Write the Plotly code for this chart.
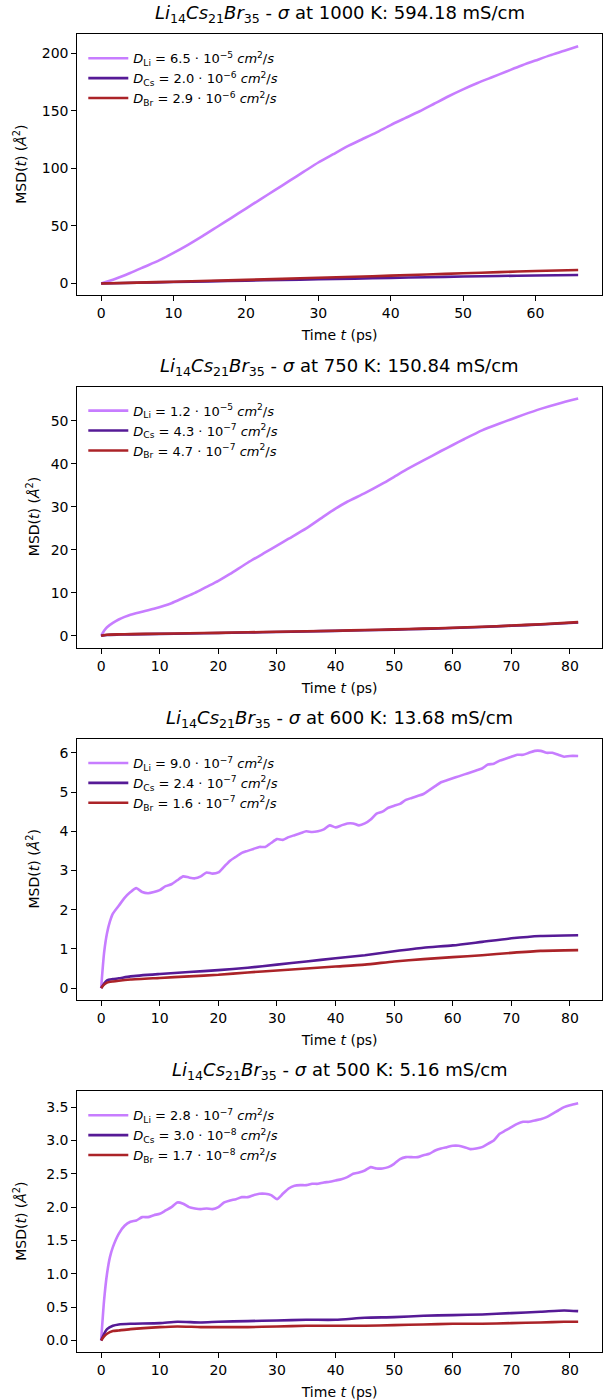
import plotly.graph_objects as go

# ---------------- data ----------------
titles = [
    "<i>Li</i><sub>14</sub><i>Cs</i><sub>21</sub><i>Br</i><sub>35</sub> - <i>σ</i> at 1000 K: 594.18 mS/cm",
    "<i>Li</i><sub>14</sub><i>Cs</i><sub>21</sub><i>Br</i><sub>35</sub> - <i>σ</i> at 750 K: 150.84 mS/cm",
    "<i>Li</i><sub>14</sub><i>Cs</i><sub>21</sub><i>Br</i><sub>35</sub> - <i>σ</i> at 600 K: 13.68 mS/cm",
    "<i>Li</i><sub>14</sub><i>Cs</i><sub>21</sub><i>Br</i><sub>35</sub> - <i>σ</i> at 500 K: 5.16 mS/cm",
]
species = ["Li", "Cs", "Br"]
colors = ["#c77dff", "#561a96", "#ab2328"]
diffusion = [
    [("6.5", "−5"), ("2.0", "−6"), ("2.9", "−6")],
    [("1.2", "−5"), ("4.3", "−7"), ("4.7", "−7")],
    [("9.0", "−7"), ("2.4", "−7"), ("1.6", "−7")],
    [("2.8", "−7"), ("3.0", "−8"), ("1.7", "−8")],
]

# panel 1 (1000 K)
t1_li = [0, 2, 4, 6, 8, 10, 12, 14, 16, 18, 20, 22, 24, 26, 28, 30, 32, 34, 36, 38, 40,
         42, 44, 46, 48, 50, 52, 54, 56, 58, 60, 62, 64, 65.9]
msd1_li = [0, 4, 9, 14.5, 20, 26.5, 33.5, 41, 49, 57, 65, 73, 81, 89, 97, 105, 112, 119, 125,
           131, 137.5, 143.5, 149.5, 156, 162.5, 168.5, 174, 179, 184, 189, 193.5, 198, 202, 206]
t1_ion = [0, 5, 10, 15, 20, 25, 30, 35, 40, 45, 50, 55, 60, 65.9]
msd1_cs = [0, 0.6, 1.2, 1.8, 2.4, 3.0, 3.6, 4.2, 4.8, 5.4, 6.0, 6.5, 6.9, 7.3]
msd1_br = [0, 0.7, 1.5, 2.3, 3.1, 4.0, 4.9, 5.8, 6.8, 7.8, 8.8, 9.8, 10.8, 11.7]

# panel 2 (750 K)
t2_li = [0, 0.5, 1, 2, 3, 4, 5, 7, 9, 12, 14, 16, 18, 20, 22, 25, 28, 30, 32, 35, 38, 40,
         42, 45, 48, 50, 52, 55, 58, 60, 62, 65, 68, 70, 72, 75, 78, 81.4]
msd2_li = [0, 1.2, 2.0, 3.0, 3.8, 4.4, 4.9, 5.6, 6.3, 7.6, 8.8, 10.0, 11.4, 12.8, 14.4, 17.0,
           19.4, 21.0, 22.6, 25.0, 27.8, 29.6, 31.2, 33.2, 35.4, 37.0, 38.6, 40.8, 43.0, 44.4,
           45.8, 47.8, 49.4, 50.4, 51.4, 52.8, 54.0, 55.2]
t2_ion = [0, 1, 3, 5, 10, 15, 20, 25, 30, 35, 40, 45, 50, 55, 60, 65, 70, 75, 81.4]
msd2_cs = [0, 0.2, 0.3, 0.35, 0.45, 0.55, 0.65, 0.78, 0.9, 1.02, 1.15, 1.3, 1.45, 1.62,
           1.82, 2.05, 2.35, 2.65, 3.1]
msd2_br = [0, 0.25, 0.35, 0.4, 0.5, 0.6, 0.7, 0.82, 0.95, 1.07, 1.2, 1.35, 1.5, 1.67,
           1.88, 2.1, 2.4, 2.7, 3.2]

# panel 3 (600 K)
t3_li = [0, 0.5, 1, 1.5, 2, 3, 4, 5, 6, 7, 8, 9, 10, 11, 12, 13, 14, 15, 16, 17, 18, 19, 20,
         21, 22, 23, 24, 25, 26, 27, 28, 29, 30, 31, 32, 33, 34, 35, 36, 37, 38, 39, 40, 41,
         42, 43, 44, 45, 46, 47, 48, 49, 50, 51, 52, 53, 54, 55, 56, 57, 58, 59, 60, 61, 62,
         63, 64, 65, 66, 67, 68, 69, 70, 71, 72, 73, 74, 75, 76, 77, 78, 79, 80, 81.4]
msd3_li = [0, 0.9, 1.4, 1.7, 1.9, 2.1, 2.3, 2.45, 2.55, 2.45, 2.42, 2.45, 2.5, 2.6, 2.65,
           2.75, 2.85, 2.82, 2.8, 2.85, 2.95, 2.92, 2.95, 3.1, 3.25, 3.35, 3.45, 3.5, 3.55,
           3.6, 3.6, 3.7, 3.8, 3.78, 3.85, 3.9, 3.95, 4.0, 3.98, 4.0, 4.05, 4.15, 4.1, 4.15,
           4.2, 4.2, 4.15, 4.2, 4.3, 4.45, 4.5, 4.6, 4.65, 4.7, 4.8, 4.85, 4.9, 4.95, 5.05,
           5.15, 5.25, 5.3, 5.35, 5.4, 5.45, 5.5, 5.55, 5.6, 5.7, 5.72, 5.8, 5.85, 5.9, 5.95,
           5.95, 6.0, 6.05, 6.05, 6.0, 6.0, 5.95, 5.9, 5.92, 5.92]
t3_ion = [0, 0.5, 1, 2, 3, 5, 10, 15, 20, 25, 30, 35, 40, 45, 50, 55, 60, 65, 70, 75, 81.4]
msd3_cs = [0, 0.12, 0.2, 0.23, 0.25, 0.3, 0.36, 0.41, 0.46, 0.52, 0.6, 0.68, 0.76, 0.84,
           0.94, 1.03, 1.09, 1.18, 1.27, 1.33, 1.35]
msd3_br = [0, 0.09, 0.14, 0.17, 0.19, 0.22, 0.26, 0.3, 0.34, 0.4, 0.45, 0.5, 0.55, 0.6,
           0.68, 0.74, 0.79, 0.84, 0.9, 0.95, 0.97]

# panel 4 (500 K)
t4_li = [0, 0.5, 1, 1.5, 2, 3, 4, 5, 6, 7, 8, 9, 10, 11, 12, 13, 14, 15, 16, 17, 18, 19, 20,
         21, 22, 23, 24, 25, 26, 27, 28, 29, 30, 31, 32, 33, 34, 35, 36, 37, 38, 39, 40, 41,
         42, 43, 44, 45, 46, 47, 48, 49, 50, 51, 52, 53, 54, 55, 56, 57, 58, 59, 60, 61, 62,
         63, 64, 65, 66, 67, 68, 69, 70, 71, 72, 73, 74, 75, 76, 77, 78, 79, 80, 81.4]
msd4_li = [0, 0.6, 1.0, 1.25, 1.4, 1.6, 1.72, 1.78, 1.8, 1.85, 1.85, 1.88, 1.9, 1.95, 2.0,
           2.07, 2.05, 2.0, 1.98, 1.97, 1.98, 1.97, 2.0, 2.07, 2.1, 2.12, 2.15, 2.15, 2.18,
           2.2, 2.2, 2.18, 2.12, 2.2, 2.28, 2.32, 2.33, 2.33, 2.35, 2.35, 2.37, 2.38, 2.4,
           2.42, 2.45, 2.5, 2.52, 2.55, 2.6, 2.58, 2.58, 2.6, 2.65, 2.72, 2.75, 2.75, 2.75,
           2.78, 2.8, 2.85, 2.88, 2.9, 2.92, 2.92, 2.9, 2.87, 2.88, 2.9, 2.95, 3.0, 3.1, 3.15,
           3.2, 3.25, 3.28, 3.28, 3.3, 3.32, 3.35, 3.4, 3.45, 3.5, 3.53, 3.56]
t4_ion = [0, 0.5, 1, 2, 3, 5, 10, 13, 17, 20, 25, 30, 35, 40, 45, 50, 55, 60, 65, 70, 75, 79, 81.4]
msd4_cs = [0, 0.1, 0.17, 0.22, 0.24, 0.25, 0.26, 0.28, 0.27, 0.28, 0.29, 0.3, 0.31, 0.31,
           0.34, 0.35, 0.37, 0.38, 0.39, 0.41, 0.43, 0.45, 0.44]
msd4_br = [0, 0.06, 0.1, 0.14, 0.15, 0.17, 0.2, 0.21, 0.2, 0.2, 0.2, 0.21, 0.22, 0.22,
           0.22, 0.23, 0.24, 0.25, 0.25, 0.26, 0.27, 0.28, 0.28]

panels = [
    [(t1_li, msd1_li), (t1_ion, msd1_cs), (t1_ion, msd1_br)],
    [(t2_li, msd2_li), (t2_ion, msd2_cs), (t2_ion, msd2_br)],
    [(t3_li, msd3_li), (t3_ion, msd3_cs), (t3_ion, msd3_br)],
    [(t4_li, msd4_li), (t4_ion, msd4_cs), (t4_ion, msd4_br)],
]
x_ticks = [list(range(0, 61, 10)), list(range(0, 81, 10)), list(range(0, 81, 10)), list(range(0, 81, 10))]
y_ticks = [[0, 50, 100, 150, 200], [0, 10, 20, 30, 40, 50], [0, 1, 2, 3, 4, 5, 6],
           [0, 0.5, 1.0, 1.5, 2.0, 2.5, 3.0, 3.5]]
y_ticktext = [None, None, None, ["0.0", "0.5", "1.0", "1.5", "2.0", "2.5", "3.0", "3.5"]]
ylabel_x = [20, 33, 33, 20]   # pixel centre of each y-axis label

# ---------------- layout ----------------
W, H = 603, 1400
FONT = "DejaVu Sans"
box_left, box_right = 77.3, 602.0
box_tops = [34.3, 386.7, 739.0, 1091.3]
box_h = 261.0

fig = go.Figure()
layout = dict(
    width=W, height=H, margin=dict(l=0, r=0, t=0, b=0),
    paper_bgcolor="white", plot_bgcolor="white",
    font=dict(family=FONT, size=14, color="black"),
    annotations=[],
)

def pad_range(vals):
    lo, hi = min(vals), max(vals)
    span = hi - lo
    return [lo - 0.05 * span, hi + 0.05 * span]

for i, panel in enumerate(panels):
    n = "" if i == 0 else str(i + 1)
    xa, ya = "x" + n, "y" + n
    leg = "legend" + n
    all_x = [v for tt, _ in panel for v in tt]
    all_y = [v for _, yy in panel for v in yy]
    for j, (tt, yy) in enumerate(panel):
        mant, exp = diffusion[i][j]
        name = (f"<i>D</i><sub>{species[j]}</sub> = {mant} · 10<sup>{exp}</sup> "
                f"<i>cm</i><sup>2</sup>/<i>s</i>")
        fig.add_trace(go.Scatter(
            x=tt, y=yy, mode="lines", name=name,
            line=dict(color=colors[j], width=2.6, shape="spline", smoothing=0.6),
            xaxis=xa, yaxis=ya, legend=leg, showlegend=True,
        ))
    top = box_tops[i]
    bot = top + box_h
    y0 = 1 - bot / H
    y1 = 1 - top / H
    axis_common = dict(
        showline=True, linecolor="black", linewidth=1, mirror=True,
        ticks="outside", ticklen=5, tickwidth=1, tickcolor="black",
        showgrid=False, zeroline=False,
        tickfont=dict(family=FONT, size=14, color="black"),
    )
    layout["xaxis" + n] = dict(
        axis_common, domain=[box_left / W, box_right / W], anchor=ya,
        range=pad_range(all_x), tickvals=x_ticks[i],
        title=dict(text="Time <i>t</i> (ps)", font=dict(family=FONT, size=14), standoff=10),
    )
    ydict = dict(
        axis_common, domain=[y0, y1], anchor=xa,
        range=pad_range(all_y), tickvals=y_ticks[i],
    )
    if y_ticktext[i] is not None:
        ydict["ticktext"] = y_ticktext[i]
    layout["yaxis" + n] = ydict
    layout[leg] = dict(
        x=(box_left + 6) / W, y=1 - (top + 9) / H, xanchor="left", yanchor="top",
        bgcolor="rgba(255,255,255,0)", borderwidth=0,
        font=dict(family=FONT, size=13, color="black"),
        tracegroupgap=0, itemwidth=40,
    )
    layout["annotations"].append(dict(
        text=titles[i], x=(box_left + box_right) / 2 / W, y=1 - (top - 6) / H,
        xref="paper", yref="paper", xanchor="center", yanchor="bottom",
        showarrow=False, font=dict(family=FONT, size=18, color="black"),
    ))
    layout["annotations"].append(dict(
        text="MSD(<i>t</i>) (<i>Å</i><sup>2</sup>)", textangle=-90,
        x=ylabel_x[i] / W, y=1 - (top + box_h / 2) / H,
        xref="paper", yref="paper", xanchor="center", yanchor="middle",
        showarrow=False, font=dict(family=FONT, size=14, color="black"),
    ))

fig.update_layout(**layout)
fig.write_html("out.html", config={"displayModeBar": False},
               post_script="document.body.style.margin='0';")
